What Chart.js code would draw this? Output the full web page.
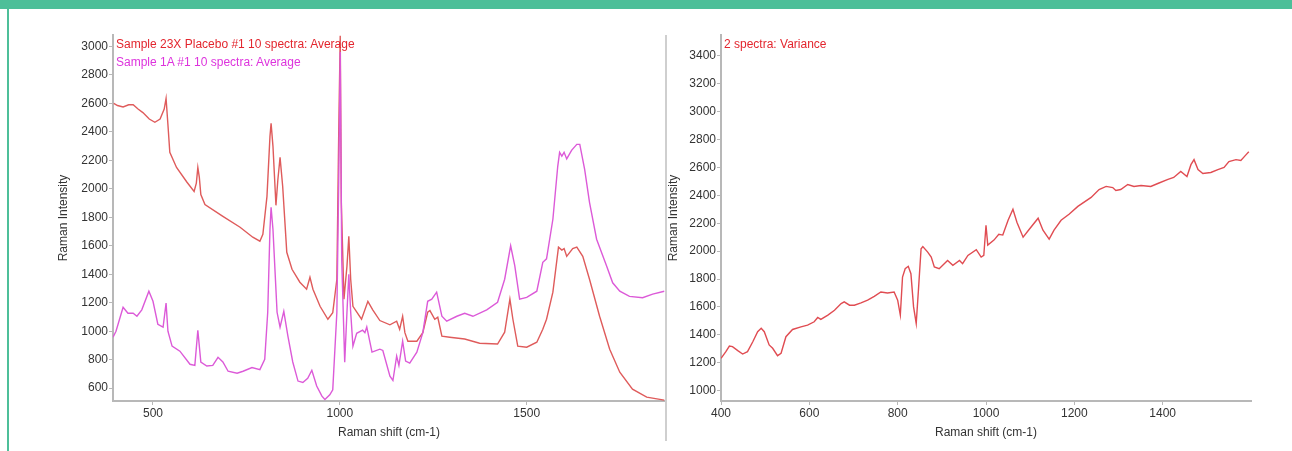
<!DOCTYPE html>
<html>
<head>
<meta charset="utf-8">
<script src="https://cdn.jsdelivr.net/npm/chart.js@4"></script>
<style>
  html, body { margin: 0; padding: 0; background: #fff; }
  body { width: 1292px; height: 451px; position: relative; overflow: hidden; font-family: "Liberation Sans", Arial, sans-serif; }
  .topbar { position: absolute; left: 0; top: 0; width: 1292px; height: 9px; background: #4dbf99; }
  .leftbar { position: absolute; left: 7px; top: 9px; width: 2px; height: 442px; background: #4dbf99; }
  .sep { position: absolute; left: 665px; top: 35px; width: 2px; height: 406px; background: #cfcfcf; }
  .box { position: absolute; top: 0; height: 451px; }
  .note { position: absolute; font-size: 12px; line-height: 14px; white-space: nowrap; }
</style>
</head>
<body>
<div class="topbar"></div>
<div class="leftbar"></div>
<div class="box" style="left:0;width:667px"><canvas id="averageChart"></canvas></div>
<div class="box" style="left:640px;width:652px"><canvas id="varianceChart"></canvas></div>
<div class="sep"></div>
<div class="note" style="left:116px;top:37px;color:#e3262e">Sample 23X Placebo #1 10 spectra: Average</div>
<div class="note" style="left:116px;top:55px;color:#dd33dd">Sample 1A #1 10 spectra: Average</div>
<div class="note" style="left:724px;top:37px;color:#e3262e">2 spectra: Variance</div>
<script>
const placeboShift = [395, 405, 420, 435, 447, 460, 473, 490, 505, 519, 530, 535, 540, 545, 563, 591, 610, 616, 620, 624, 628, 639, 687, 733, 767, 786, 794, 805, 813, 816, 821, 829, 834, 840, 847, 858, 872, 893, 911, 920, 928, 947, 968, 981, 992, 997, 1001, 1004, 1011, 1019, 1024, 1029, 1035, 1058, 1075, 1088, 1107, 1134, 1152, 1160, 1168, 1174, 1182, 1206, 1222, 1235, 1241, 1254, 1262, 1273, 1294, 1334, 1374, 1422, 1441, 1455, 1463, 1476, 1500, 1527, 1543, 1553, 1570, 1585, 1594, 1600, 1607, 1623, 1634, 1650, 1668, 1695, 1722, 1749, 1783, 1821, 1868];
const placeboIntensity = [2600, 2585, 2575, 2590, 2590, 2560, 2535, 2490, 2467, 2490, 2560, 2635, 2450, 2256, 2150, 2046, 1982, 2040, 2150, 2080, 1960, 1890, 1807, 1730, 1660, 1632, 1680, 1947, 2368, 2460, 2300, 1884, 2060, 2221, 2018, 1554, 1435, 1344, 1295, 1379, 1295, 1175, 1084, 1130, 1365, 2400, 3075, 1900, 1225, 1456, 1667, 1365, 1175, 1084, 1210, 1150, 1075, 1045, 1070, 1014, 1105, 990, 930, 930, 990, 1133, 1145, 1084, 1098, 965, 958, 945, 916, 910, 993, 1225, 1084, 895, 888, 923, 1014, 1084, 1274, 1590, 1570, 1580, 1526, 1580, 1590, 1526, 1365, 1105, 874, 712, 593, 537, 516];

const sampleShift = [393, 401, 420, 433, 447, 457, 470, 489, 500, 513, 527, 535, 540, 551, 572, 599, 612, 620, 628, 644, 660, 674, 687, 701, 725, 741, 765, 786, 799, 807, 813, 816, 821, 832, 840, 850, 861, 874, 888, 901, 914, 925, 938, 952, 960, 973, 981, 992, 997, 1001, 1005, 1013, 1019, 1024, 1029, 1035, 1045, 1061, 1067, 1072, 1086, 1107, 1115, 1134, 1142, 1152, 1158, 1168, 1176, 1187, 1206, 1222, 1235, 1246, 1259, 1273, 1286, 1313, 1334, 1356, 1393, 1422, 1441, 1457, 1468, 1481, 1500, 1527, 1543, 1553, 1570, 1583, 1588, 1594, 1600, 1607, 1620, 1634, 1642, 1655, 1668, 1687, 1714, 1730, 1749, 1775, 1810, 1837, 1868];
const sampleIntensity = [958, 1000, 1168, 1126, 1126, 1105, 1150, 1281, 1210, 1049, 1028, 1197, 1000, 895, 860, 768, 760, 1007, 784, 756, 760, 817, 784, 719, 705, 719, 745, 730, 803, 1133, 1716, 1870, 1716, 1133, 1028, 1140, 965, 784, 650, 640, 670, 726, 615, 544, 520, 553, 588, 1133, 2050, 2960, 1500, 783, 1133, 1400, 1133, 895, 985, 1007, 990, 1030, 853, 874, 865, 684, 654, 825, 760, 930, 790, 776, 853, 990, 1210, 1225, 1274, 1105, 1070, 1105, 1126, 1105, 1150, 1203, 1365, 1600, 1460, 1225, 1237, 1281, 1484, 1508, 1786, 2158, 2256, 2230, 2256, 2210, 2270, 2312, 2312, 2137, 1905, 1646, 1456, 1340, 1281, 1245, 1235, 1260, 1281];

const varianceShift = [400, 411, 419, 426, 438, 449, 460, 472, 483, 491, 498, 509, 517, 528, 536, 547, 562, 581, 596, 611, 619, 626, 642, 657, 672, 679, 691, 702, 717, 732, 747, 762, 777, 792, 800, 806, 811, 817, 824, 830, 836, 842, 847, 853, 857, 868, 876, 883, 894, 913, 925, 940, 947, 959, 978, 989, 995, 1000, 1004, 1018, 1029, 1038, 1050, 1061, 1070, 1084, 1098, 1118, 1129, 1143, 1154, 1170, 1188, 1208, 1238, 1256, 1272, 1287, 1294, 1305, 1321, 1335, 1351, 1373, 1389, 1412, 1425, 1441, 1455, 1464, 1471, 1480, 1491, 1509, 1525, 1539, 1550, 1566, 1577, 1589, 1595];
const varianceValue = [1231, 1279, 1319, 1315, 1286, 1262, 1279, 1350, 1422, 1446, 1422, 1327, 1303, 1250, 1267, 1386, 1438, 1457, 1469, 1493, 1524, 1510, 1541, 1576, 1624, 1636, 1612, 1612, 1629, 1648, 1676, 1707, 1700, 1707, 1648, 1541, 1814, 1874, 1891, 1838, 1600, 1481, 1719, 2017, 2033, 1993, 1957, 1886, 1874, 1933, 1898, 1933, 1910, 1969, 2010, 1957, 1969, 2185, 2043, 2079, 2120, 2115, 2221, 2300, 2207, 2100, 2157, 2236, 2150, 2086, 2150, 2221, 2264, 2321, 2385, 2442, 2464, 2456, 2435, 2442, 2478, 2464, 2471, 2464, 2485, 2514, 2528, 2571, 2535, 2620, 2656, 2585, 2557, 2564, 2585, 2600, 2642, 2656, 2650, 2692, 2713];

const leftXTicks = [500, 1000, 1500];
const leftYTicks = [600, 800, 1000, 1200, 1400, 1600, 1800, 2000, 2200, 2400, 2600, 2800, 3000];
const rightXTicks = [400, 600, 800, 1000, 1200, 1400];
const rightYTicks = [1000, 1200, 1400, 1600, 1800, 2000, 2200, 2400, 2600, 2800, 3000, 3200, 3400];

const pts = (xs, ys) => xs.map((x, i) => ({ x: x, y: ys[i] }));
const font = { family: '"Liberation Sans", Arial, sans-serif', size: 12 };
const axisColor = '#b8b8b8';

function axis(min, max, values, titleText, extra) {
  return Object.assign({
    type: 'linear',
    min: min,
    max: max,
    afterBuildTicks: (scale) => { scale.ticks = values.map(v => ({ value: v })); },
    grid: { display: true, drawOnChartArea: false, drawTicks: true, tickLength: 4, color: axisColor },
    border: { display: true, color: axisColor, width: 2 },
    ticks: { color: '#333', font: font, padding: 1, maxRotation: 0, autoSkip: false, callback: (v) => String(v) },
    title: { display: true, text: titleText, color: '#333', font: font, padding: 0 },
  }, extra);
}

function lineSet(label, data, color) {
  return { label: label, data: data, borderColor: color, borderWidth: 1.4, pointRadius: 0, tension: 0, fill: false };
}

new Chart(document.getElementById('averageChart'), {
  type: 'line',
  data: {
    datasets: [
      lineSet('Sample 1A #1 10 spectra: Average', pts(sampleShift, sampleIntensity), '#dc5ad8'),
      lineSet('Sample 23X Placebo #1 10 spectra: Average', pts(placeboShift, placeboIntensity), '#df5b5b'),
    ],
  },
  options: {
    responsive: true,
    maintainAspectRatio: false,
    animation: false,
    layout: { padding: { left: 56, right: 2, top: 35, bottom: 11 } },
    plugins: { legend: { display: false }, tooltip: { enabled: false } },
    scales: {
      x: axis(393, 1870, leftXTicks, 'Raman shift (cm-1)', { afterFit: (s) => { s.height = 39; } }),
      y: axis(510, 3080, leftYTicks, 'Raman Intensity', { afterFit: (s) => { s.width = 57; } }),
    },
  },
});

new Chart(document.getElementById('varianceChart'), {
  type: 'line',
  data: {
    datasets: [
      lineSet('2 spectra: Variance', pts(varianceShift, varianceValue), '#e04c52'),
    ],
  },
  options: {
    responsive: true,
    maintainAspectRatio: false,
    animation: false,
    layout: { padding: { left: 26, right: 41, top: 35, bottom: 11 } },
    plugins: { legend: { display: false }, tooltip: { enabled: false } },
    scales: {
      x: axis(400, 1600, rightXTicks, 'Raman shift (cm-1)', { afterFit: (s) => { s.height = 39; } }),
      y: axis(925, 3550, rightYTicks, 'Raman Intensity', { afterFit: (s) => { s.width = 55; } }),
    },
  },
});
</script>
</body>
</html>
